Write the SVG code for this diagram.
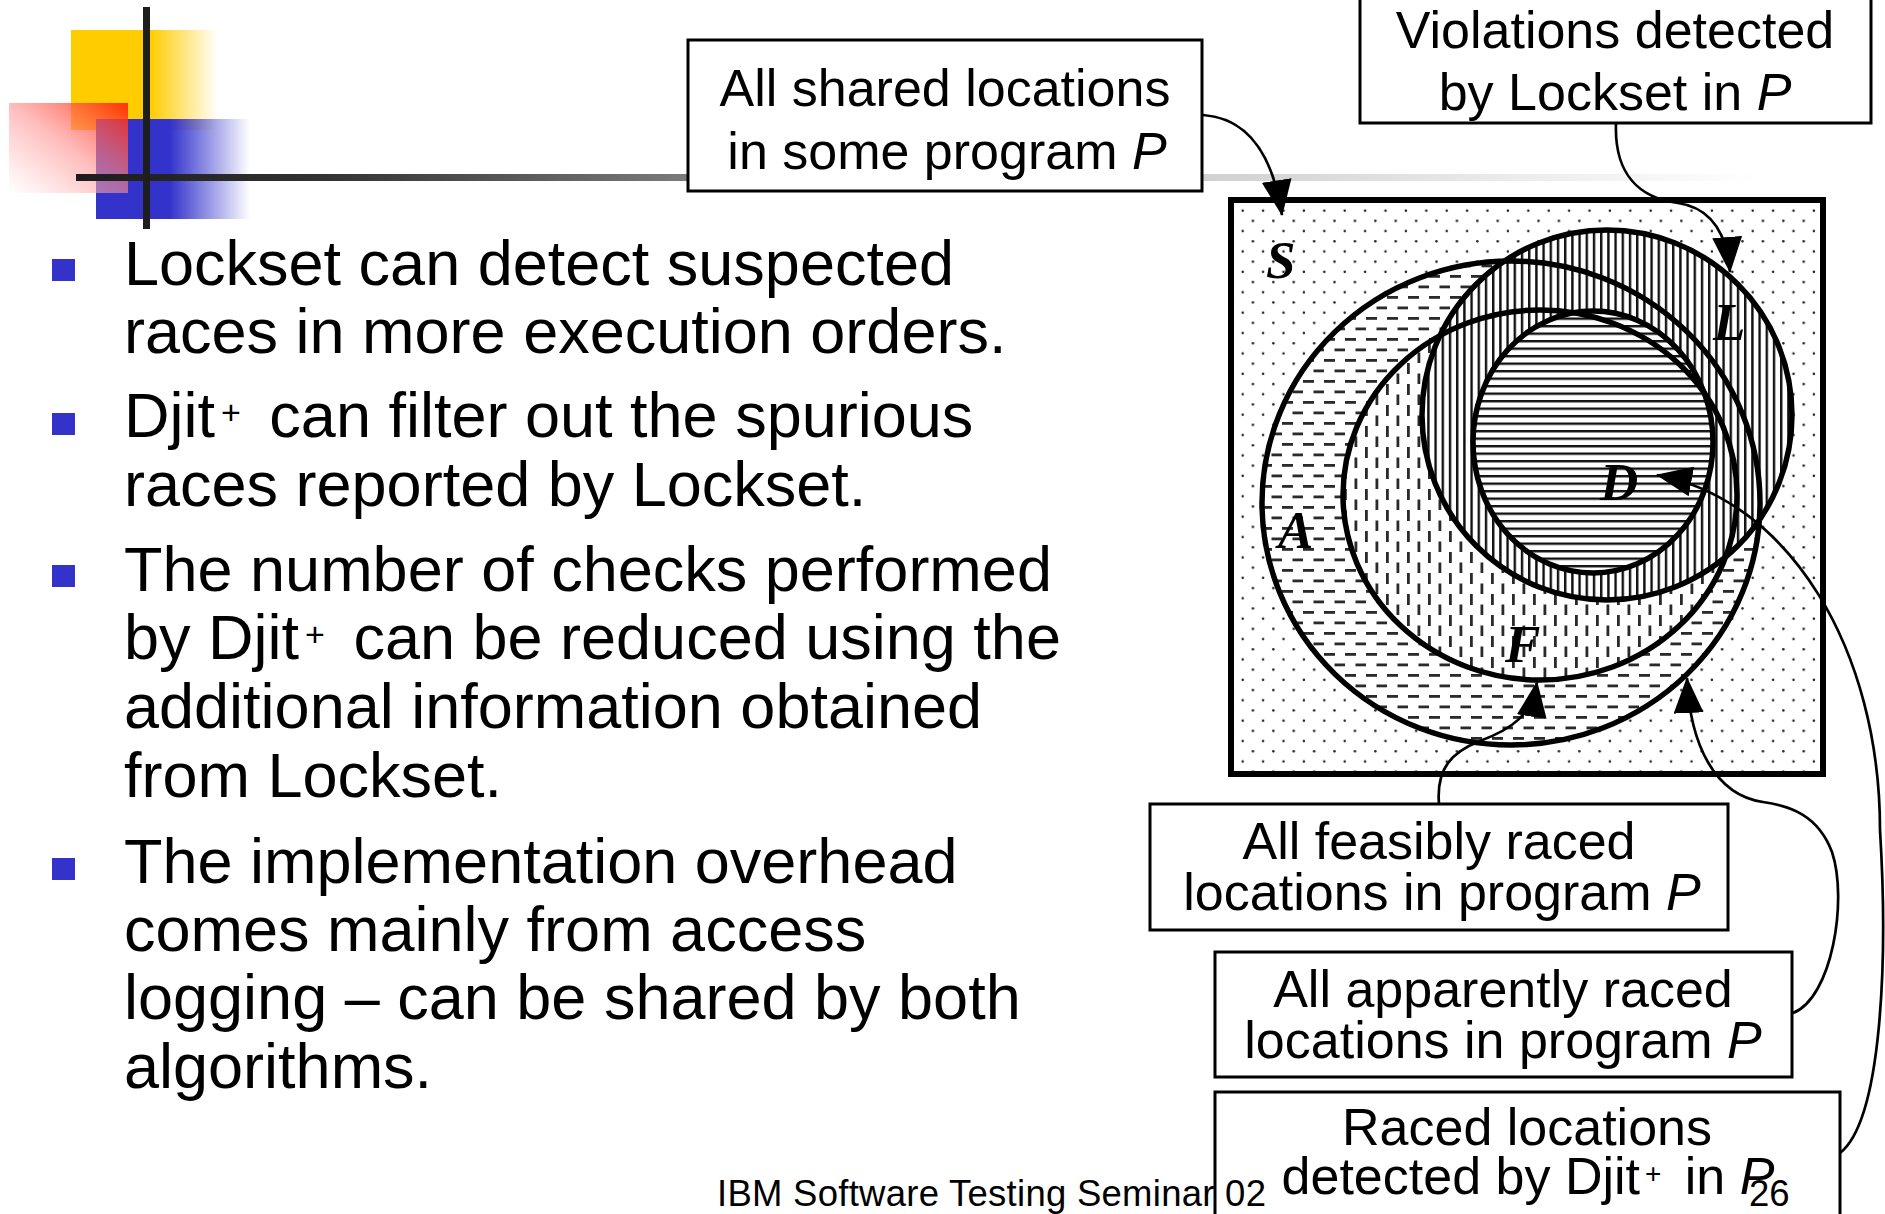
<svg xmlns="http://www.w3.org/2000/svg" width="1885" height="1214" viewBox="0 0 1885 1214">
  <defs>
    <style>
      .bul { font-family: "Liberation Sans", Arial, sans-serif; font-size: 63px; fill: #000; }
      .sup { font-size: 34px; }
      .sup2 { font-size: 28px; }
      .lbl { font-family: "Liberation Sans", Arial, sans-serif; font-size: 52px; fill: #000; text-anchor: middle; }
      .it { font-style: italic; }
      .set { font-family: "Liberation Serif", "Times New Roman", serif; font-size: 53px; font-weight: bold; font-style: italic; fill: #000; }
      .foot { font-family: "Liberation Sans", Arial, sans-serif; font-size: 36.5px; fill: #000; }
      .box { fill: #fff; stroke: #000; stroke-width: 3; }
      .ring { fill: none; stroke: #000; stroke-width: 5.5; }
      .wire { fill: none; stroke: #000; stroke-width: 2.7; marker-end: url(#head); }
      .bullet { fill: #3333CC; }
    </style>
    <linearGradient id="gYellow" x1="0" y1="0" x2="1" y2="0">
      <stop offset="0" stop-color="#FFCC00"/>
      <stop offset="0.54" stop-color="#FFCC00"/>
      <stop offset="1" stop-color="#FFCC00" stop-opacity="0"/>
    </linearGradient>
    <linearGradient id="gBlue" x1="0" y1="0" x2="1" y2="0">
      <stop offset="0" stop-color="#3333CC"/>
      <stop offset="0.48" stop-color="#3333CC"/>
      <stop offset="1" stop-color="#3333CC" stop-opacity="0"/>
    </linearGradient>
    <linearGradient id="gRed" x1="1" y1="0" x2="0" y2="1">
      <stop offset="0" stop-color="#FF2000" stop-opacity="0.9"/>
      <stop offset="0.5" stop-color="#FF9090" stop-opacity="0.6"/>
      <stop offset="1" stop-color="#FFFFFF" stop-opacity="0.5"/>
    </linearGradient>
    <linearGradient id="gBar" gradientUnits="userSpaceOnUse" x1="76" y1="0" x2="1760" y2="0">
      <stop offset="0" stop-color="#1c1c1c"/>
      <stop offset="0.15" stop-color="#333333"/>
      <stop offset="0.36" stop-color="#7a7a7a"/>
      <stop offset="0.66" stop-color="#cfcfcf"/>
      <stop offset="0.86" stop-color="#ececec"/>
      <stop offset="1" stop-color="#ffffff"/>
    </linearGradient>

    <!-- region fills -->
    <pattern id="pDots" patternUnits="userSpaceOnUse" x="1236" y="205" width="20.4" height="20.4">
      <rect width="20.4" height="20.4" fill="#fff"/>
      <circle cx="6.7" cy="5.7" r="1.25" fill="#222"/>
      <circle cx="16.9" cy="15.9" r="1.25" fill="#222"/>
    </pattern>
    <pattern id="pHDash" patternUnits="userSpaceOnUse" x="1240" y="250" width="21" height="21">
      <rect width="21" height="21" fill="#fff"/>
      <rect x="0" y="4" width="11" height="2.8" fill="#2a2a2a"/>
      <rect x="10.5" y="14.5" width="10.5" height="2.8" fill="#2a2a2a"/>
    </pattern>
    <pattern id="pVDash" patternUnits="userSpaceOnUse" x="1340" y="300" width="21" height="21">
      <rect width="21" height="21" fill="#fff"/>
      <rect x="4" y="0" width="2.8" height="11" fill="#2a2a2a"/>
      <rect x="14.5" y="10.5" width="2.8" height="10.5" fill="#2a2a2a"/>
    </pattern>
    <pattern id="pVLine" patternUnits="userSpaceOnUse" x="1420" y="0" width="7.2" height="10">
      <rect width="7.2" height="10" fill="#fff"/>
      <rect x="0" y="0" width="2.4" height="10" fill="#111"/>
    </pattern>
    <pattern id="pHLine" patternUnits="userSpaceOnUse" x="0" y="310" width="10" height="7.5">
      <rect width="10" height="7.5" fill="#fff"/>
      <rect x="0" y="0" width="10" height="2.4" fill="#111"/>
    </pattern>

    <marker id="head" markerUnits="userSpaceOnUse" markerWidth="36" markerHeight="30" viewBox="0 0 36 30" refX="35" refY="15" orient="auto">
      <path d="M0,0 L36,15 L0,30 z" fill="#000"/>
    </marker>
  </defs>

  <rect width="1885" height="1214" fill="#fff"/>

  <!-- slide ornament -->
  <g id="ornament">
    <rect x="71" y="30" width="147" height="100" fill="url(#gYellow)"/>
    <rect x="96" y="119" width="154" height="100" fill="url(#gBlue)"/>
    <rect x="9" y="103" width="119" height="90" fill="url(#gRed)"/>
    <rect x="76" y="174" width="1684" height="7" fill="url(#gBar)"/>
    <rect x="143" y="7" width="7" height="222" fill="#1e1e1e"/>
  </g>

  <!-- bullet list -->
  <g id="bullets">
    <rect class="bullet" x="52" y="259" width="23" height="22"/>
    <rect class="bullet" x="52" y="413" width="23" height="22"/>
    <rect class="bullet" x="52" y="565" width="23" height="22"/>
    <rect class="bullet" x="52" y="858" width="23" height="22"/>
    <text class="bul" x="124" y="285">Lockset can detect suspected</text>
    <text class="bul" x="124" y="353">races in more execution orders.</text>
    <text class="bul" x="124" y="437">Djit<tspan class="sup" dx="6" dy="-13">+</tspan><tspan dx="11" dy="13"> can filter out the spurious</tspan></text>
    <text class="bul" x="124" y="506">races reported by Lockset.</text>
    <text class="bul" x="124" y="591">The number of checks performed</text>
    <text class="bul" x="124" y="659">by Djit<tspan class="sup" dx="6" dy="-13">+</tspan><tspan dx="11" dy="13"> can be reduced using the</tspan></text>
    <text class="bul" x="124" y="728">additional information obtained</text>
    <text class="bul" x="124" y="797">from Lockset.</text>
    <text class="bul" x="124" y="883">The implementation overhead</text>
    <text class="bul" x="124" y="951">comes mainly from access</text>
    <text class="bul" x="124" y="1019">logging – can be shared by both</text>
    <text class="bul" x="124" y="1088">algorithms.</text>
  </g>

  <!-- Venn diagram of location sets -->
  <g id="venn">
    <rect id="set-S" x="1231" y="200" width="592" height="574" fill="url(#pDots)"/>
    <ellipse id="set-A" cx="1511" cy="503" rx="249" ry="242" fill="url(#pHDash)"/>
    <ellipse id="set-F" cx="1540" cy="495" rx="197" ry="185" fill="url(#pVDash)"/>
    <circle id="set-L" cx="1607" cy="415" r="185" fill="url(#pVLine)"/>
    <ellipse id="set-D" cx="1593" cy="442" rx="120" ry="131" fill="url(#pHLine)"/>
    <rect x="1231" y="200" width="592" height="574" fill="none" stroke="#000" stroke-width="6"/>
    <ellipse class="ring" cx="1511" cy="503" rx="249" ry="242"/>
    <ellipse class="ring" cx="1540" cy="495" rx="197" ry="185"/>
    <circle class="ring" cx="1607" cy="415" r="185"/>
    <ellipse class="ring" cx="1593" cy="442" rx="120" ry="131"/>
    <text class="set" x="1266" y="278">S</text>
    <text class="set" x="1278" y="548">A</text>
    <text class="set" x="1713" y="340">L</text>
    <text class="set" x="1600" y="500">D</text>
    <text class="set" x="1505" y="662">F</text>
  </g>

  <!-- callout boxes -->
  <g id="box-shared">
    <rect class="box" x="688" y="40" width="514" height="151"/>
    <text class="lbl" x="945" y="106">All shared locations</text>
    <text class="lbl" x="947" y="169">in some program <tspan class="it">P</tspan></text>
  </g>
  <g id="box-lockset">
    <rect class="box" x="1360" y="-10" width="511" height="133"/>
    <text class="lbl" x="1615" y="48">Violations detected</text>
    <text class="lbl" x="1615" y="110">by Lockset in <tspan class="it">P</tspan></text>
  </g>
  <g id="box-feasible">
    <rect class="box" x="1150" y="804" width="578" height="126"/>
    <text class="lbl" x="1439" y="859">All feasibly raced</text>
    <text class="lbl" x="1442" y="910">locations in program <tspan class="it">P</tspan></text>
  </g>
  <g id="box-apparent">
    <rect class="box" x="1215" y="952" width="577" height="125"/>
    <text class="lbl" x="1503" y="1007">All apparently raced</text>
    <text class="lbl" x="1503" y="1058">locations in program <tspan class="it">P</tspan></text>
  </g>
  <g id="box-djit">
    <rect class="box" x="1215" y="1092" width="625" height="140"/>
    <text class="lbl" x="1527" y="1145">Raced locations</text>
    <text class="lbl" x="1528" y="1194">detected by Djit<tspan class="sup2" dx="5" dy="-11">+</tspan><tspan dx="9" dy="11"> in </tspan><tspan class="it">P</tspan></text>
  </g>

  <!-- connectors -->
  <g id="connectors">
    <path class="wire" d="M1203,115 C1245,118 1272,150 1282,215"/>
    <path class="wire" d="M1616,123 C1614,175 1640,198 1678,203 C1712,208 1727,235 1730,272"/>
    <path class="wire" d="M1840,1153 C1882,1120 1888,960 1880,830 C1880,650 1790,500 1657,475"/>
    <path class="wire" d="M1793,1013 C1832,998 1848,900 1832,852 C1818,815 1790,806 1763,802 C1715,795 1690,745 1687,678"/>
    <path class="wire" d="M1439,804 C1436,768 1452,752 1480,741 C1512,729 1532,715 1537,682"/>
  </g>

  <!-- footer -->
  <g id="footer">
    <text class="foot" x="717" y="1206" textLength="549" lengthAdjust="spacing">IBM Software Testing Seminar 02</text>
    <text class="foot" x="1749" y="1206">26</text>
  </g>
</svg>
